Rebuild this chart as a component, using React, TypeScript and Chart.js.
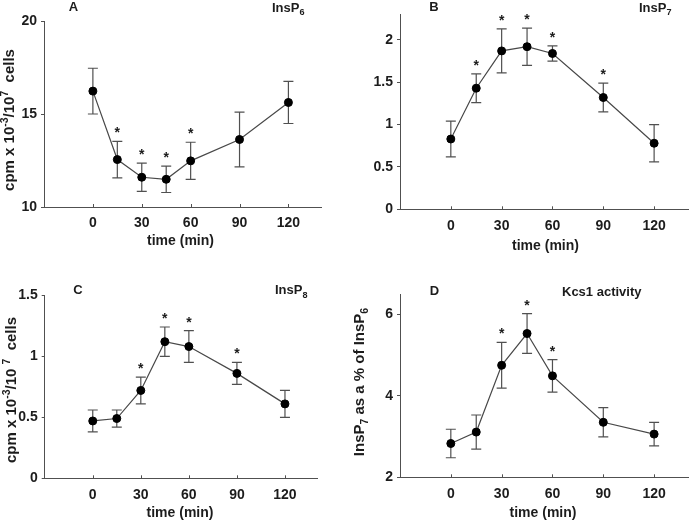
import React, { useEffect, useRef } from 'react';
import { Chart, registerables } from 'chart.js';

Chart.register(...registerables);

// ---------------- data ----------------
const timeMin = [0, 15, 30, 45, 60, 90, 120];
const xTickValues = [0, 30, 60, 90, 120];

const insP6Mean = [16.23, 12.55, 11.6, 11.49, 12.48, 13.63, 15.62];
const insP6Err = [1.23, 0.98, 0.76, 0.71, 1.0, 1.47, 1.13];
const insP6Sig = [false, true, true, true, true, false, false];
const insP6YTicks = [10, 15, 20];

const insP7Mean = [0.83, 1.43, 1.87, 1.92, 1.84, 1.32, 0.78];
const insP7Err = [0.21, 0.17, 0.26, 0.22, 0.09, 0.17, 0.22];
const insP7Sig = [false, true, true, true, true, true, false];
const insP7YTicks = [0, 0.5, 1, 1.5, 2];

const insP8Mean = [0.47, 0.49, 0.72, 1.12, 1.08, 0.86, 0.61];
const insP8Err = [0.09, 0.07, 0.11, 0.12, 0.13, 0.09, 0.11];
const insP8Sig = [false, false, true, true, true, true, false];
const insP8YTicks = [0, 0.5, 1, 1.5];

const kcs1Mean = [2.83, 3.11, 4.75, 5.53, 4.49, 3.35, 3.06];
const kcs1Err = [0.35, 0.42, 0.56, 0.49, 0.4, 0.36, 0.29];
const kcs1Sig = [false, false, true, true, true, false, false];
const kcs1YTicks = [2, 4, 6];

const xAxisTitle = 'time (min)';

// ---------------- styling ----------------
const FONT = '"Liberation Sans", Arial, Helvetica, sans-serif';
const TEXT = '#1c1c1c';
const LINE = '#505050';

type Seg = { t: string; k?: 'sub' | 'sup' };

function setFont(ctx: CanvasRenderingContext2D, size: number) {
  ctx.font = `bold ${size}px ${FONT}`;
}

function richWidth(ctx: CanvasRenderingContext2D, segs: Seg[], size: number) {
  let w = 0;
  for (const s of segs) {
    setFont(ctx, s.k ? size * 0.7 : size);
    w += ctx.measureText(s.t).width;
  }
  return w;
}

function drawRich(ctx: CanvasRenderingContext2D, segs: Seg[], x: number, y: number, size: number, align: 'left' | 'center') {
  const w = richWidth(ctx, segs, size);
  let cx = align === 'center' ? x - w / 2 : x;
  ctx.textAlign = 'left';
  ctx.textBaseline = 'alphabetic';
  ctx.fillStyle = TEXT;
  for (const s of segs) {
    const sz = s.k ? size * 0.7 : size;
    setFont(ctx, sz);
    const dy = s.k === 'sub' ? size * 0.3 : s.k === 'sup' ? -size * 0.4 : 0;
    ctx.fillText(s.t, cx, y + dy);
    cx += ctx.measureText(s.t).width;
  }
}

interface Panel {
  letter: string;
  title: Seg[];
  yTitle: Seg[] | null;
  mean: number[];
  err: number[];
  sig: boolean[];
  yTicks: number[];
  yMin: number;
  yMax: number;
  box: { left: number; top: number; width: number; height: number };
  area: { left: number; top: number; right: number; bottom: number };
  letterPos: [number, number];
  titlePos: [number, number];
  yTitlePos: [number, number];
  xTitlePos: [number, number];
}

const panels: Panel[] = [
  {
    letter: 'A',
    title: [{ t: 'InsP' }, { t: '6', k: 'sub' }],
    yTitle: [{ t: 'cpm x 10' }, { t: '-3', k: 'sup' }, { t: '/10' }, { t: '7', k: 'sup' }, { t: '  cells' }],
    mean: insP6Mean, err: insP6Err, sig: insP6Sig, yTicks: insP6YTicks, yMin: 10, yMax: 20,
    box: { left: 0, top: 0, width: 346, height: 262 },
    area: { left: 44, top: 21, right: 321, bottom: 207 },
    letterPos: [73.5, 11], titlePos: [272, 11.5], yTitlePos: [13.5, 120], xTitlePos: [180.5, 245],
  },
  {
    letter: 'B',
    title: [{ t: 'InsP' }, { t: '7', k: 'sub' }],
    yTitle: null,
    mean: insP7Mean, err: insP7Err, sig: insP7Sig, yTicks: insP7YTicks, yMin: 0, yMax: 2.3,
    box: { left: 346, top: 0, width: 347, height: 262 },
    area: { left: 400, top: 14.5, right: 691, bottom: 209.3 },
    letterPos: [434, 10.5], titlePos: [639, 11.5], yTitlePos: [0, 0], xTitlePos: [545.5, 250],
  },
  {
    letter: 'C',
    title: [{ t: 'InsP' }, { t: '8', k: 'sub' }],
    yTitle: [{ t: 'cpm x 10' }, { t: '-3', k: 'sup' }, { t: '/10 ' }, { t: '7', k: 'sup' }, { t: '  cells' }],
    mean: insP8Mean, err: insP8Err, sig: insP8Sig, yTicks: insP8YTicks, yMin: 0, yMax: 1.5,
    box: { left: 0, top: 262, width: 346, height: 261 },
    area: { left: 44.7, top: 295.3, right: 317, bottom: 478.3 },
    letterPos: [78, 293.5], titlePos: [275, 294], yTitlePos: [16, 390], xTitlePos: [180, 517],
  },
  {
    letter: 'D',
    title: [{ t: 'Kcs1 activity' }],
    yTitle: [{ t: 'InsP' }, { t: '7', k: 'sub' }, { t: ' as a % of InsP' }, { t: '6', k: 'sub' }],
    mean: kcs1Mean, err: kcs1Err, sig: kcs1Sig, yTicks: kcs1YTicks, yMin: 2, yMax: 6.5,
    box: { left: 346, top: 262, width: 347, height: 261 },
    area: { left: 400, top: 294, right: 691, bottom: 477.3 },
    letterPos: [434.5, 295], titlePos: [562, 295.5], yTitlePos: [363.5, 382], xTitlePos: [543, 517],
  },
];

const Y_W = 40;
const X_H = 30;

function makeConfig(p: Panel): any {
  const ox = p.box.left;
  const oy = p.box.top;
  const overlay = {
    id: 'overlay',
    beforeDatasetsDraw(chart: any) {
      const ctx: CanvasRenderingContext2D = chart.ctx;
      const xs = chart.scales.x;
      const ys = chart.scales.y;
      ctx.save();
      ctx.strokeStyle = LINE;
      ctx.lineWidth = 1.2;
      for (let i = 0; i < timeMin.length; i++) {
        const x = xs.getPixelForValue(timeMin[i]);
        const yt = ys.getPixelForValue(p.mean[i] + p.err[i]);
        const yb = ys.getPixelForValue(p.mean[i] - p.err[i]);
        ctx.beginPath();
        ctx.moveTo(x, yt);
        ctx.lineTo(x, yb);
        ctx.moveTo(x - 5, yt);
        ctx.lineTo(x + 5, yt);
        ctx.moveTo(x - 5, yb);
        ctx.lineTo(x + 5, yb);
        ctx.stroke();
      }
      ctx.restore();
    },
    afterDraw(chart: any) {
      const ctx: CanvasRenderingContext2D = chart.ctx;
      const xs = chart.scales.x;
      const ys = chart.scales.y;
      const area = chart.chartArea;
      ctx.save();
      // inward x tick marks
      ctx.strokeStyle = LINE;
      ctx.lineWidth = 1;
      for (const v of xTickValues) {
        const x = Math.round(xs.getPixelForValue(v)) + 0.5;
        ctx.beginPath();
        ctx.moveTo(x, area.bottom);
        ctx.lineTo(x, area.bottom - 3);
        ctx.stroke();
      }
      // significance stars
      ctx.fillStyle = TEXT;
      setFont(ctx, 14);
      ctx.textAlign = 'center';
      ctx.textBaseline = 'alphabetic';
      for (let i = 0; i < timeMin.length; i++) {
        if (!p.sig[i]) continue;
        const x = xs.getPixelForValue(timeMin[i]);
        const yt = ys.getPixelForValue(p.mean[i] + p.err[i]);
        ctx.fillText('*', x, yt - 12 + 8);
      }
      // panel letter
      setFont(ctx, 13);
      ctx.textAlign = 'center';
      ctx.fillText(p.letter, p.letterPos[0] - ox, p.letterPos[1] - oy);
      // panel title
      drawRich(ctx, p.title, p.titlePos[0] - ox, p.titlePos[1] - oy, 13, 'left');
      // x title
      drawRich(ctx, [{ t: xAxisTitle }], p.xTitlePos[0] - ox, p.xTitlePos[1] - oy, 14, 'center');
      // y title
      if (p.yTitle) {
        ctx.save();
        ctx.translate(p.yTitlePos[0] - ox, p.yTitlePos[1] - oy);
        ctx.rotate(-Math.PI / 2);
        drawRich(ctx, p.yTitle, 0, 0, 15, 'center');
        ctx.restore();
      }
      ctx.restore();
    },
  };

  return {
    type: 'line',
    data: {
      datasets: [
        {
          data: timeMin.map((t, i) => ({ x: t, y: p.mean[i] })),
          borderColor: '#484848',
          borderWidth: 1.2,
          pointRadius: 4,
          pointBackgroundColor: '#000',
          pointBorderColor: '#000',
          pointBorderWidth: 1,
          tension: 0,
        },
      ],
    },
    options: {
      responsive: false,
      animation: false,
      devicePixelRatio: 1,
      layout: {
        padding: {
          left: p.area.left - ox - Y_W,
          top: p.area.top - oy,
          right: ox + p.box.width - p.area.right,
          bottom: oy + p.box.height - p.area.bottom - X_H,
        },
      },
      plugins: { legend: { display: false }, tooltip: { enabled: false } },
      scales: {
        x: {
          type: 'linear',
          min: -30,
          max: 140,
          afterFit: (s: any) => { s.height = X_H; },
          afterBuildTicks: (s: any) => { s.ticks = xTickValues.map((v) => ({ value: v })); },
          grid: { display: true, drawOnChartArea: false, drawTicks: false },
          border: { display: true, color: LINE, width: 1 },
          ticks: {
            padding: 8,
            color: TEXT,
            font: { family: FONT, size: 14, weight: 'bold' },
            callback: (v: any) => String(v),
            maxRotation: 0,
            autoSkip: false,
          },
        },
        y: {
          type: 'linear',
          min: p.yMin,
          max: p.yMax,
          afterFit: (s: any) => { s.width = Y_W; },
          afterBuildTicks: (s: any) => { s.ticks = p.yTicks.map((v) => ({ value: v })); },
          grid: { display: true, drawOnChartArea: false, drawTicks: true, tickLength: 3, color: LINE },
          border: { display: true, color: LINE, width: 1 },
          ticks: {
            padding: 4,
            color: TEXT,
            font: { family: FONT, size: 14, weight: 'bold' },
            callback: (v: any) => String(v),
            autoSkip: false,
          },
        },
      },
    },
    plugins: [overlay],
  };
}

function PanelChart({ p }: { p: Panel }) {
  const ref = useRef<HTMLCanvasElement>(null);
  useEffect(() => {
    const chart = new Chart(ref.current as HTMLCanvasElement, makeConfig(p));
    return () => chart.destroy();
  }, [p]);
  return (
    <canvas
      ref={ref}
      width={p.box.width}
      height={p.box.height}
      style={{ position: 'absolute', left: p.box.left, top: p.box.top, width: p.box.width, height: p.box.height }}
    />
  );
}

export default function App() {
  return (
    <div style={{ position: 'fixed', left: 0, top: 0, width: 693, height: 523, background: '#fff', overflow: 'hidden' }}>
      {panels.map((p) => (
        <PanelChart key={p.letter} p={p} />
      ))}
    </div>
  );
}
